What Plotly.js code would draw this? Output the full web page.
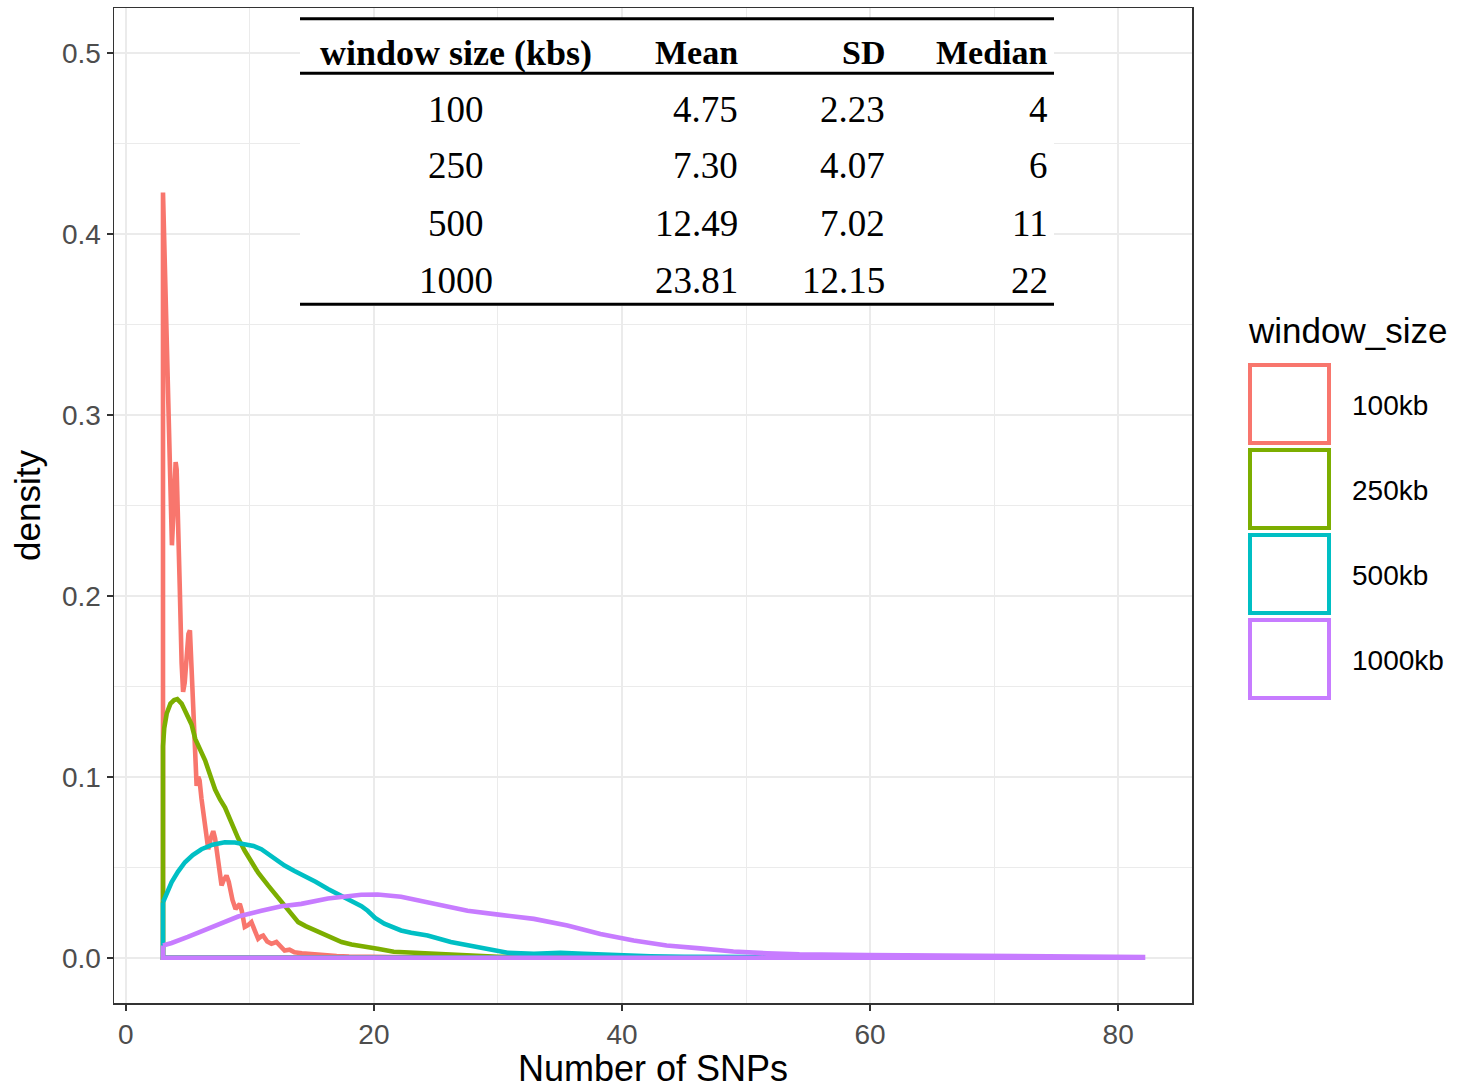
<!DOCTYPE html>
<html>
<head>
<meta charset="utf-8">
<script src="https://cdn.plot.ly/plotly-3.0.1.min.js"></script>
<style>
  html, body { margin: 0; padding: 0; background: #ffffff; }
  #chart { width: 1457px; height: 1089px; }
</style>
</head>
<body>
<div id="chart"></div>
<script>
// ---------------- data ----------------
const seriesNames = ['100kb', '250kb', '500kb', '1000kb'];
const seriesColors = ['#F8766D', '#7CAE00', '#00BFC4', '#C77CFF'];

const x100 = [3, 3.2, 3.4, 3.55, 3.65, 3.72, 3.8, 3.9, 4.02, 4.1, 4.2, 4.35, 4.5, 4.62, 4.75, 4.9, 5.05, 5.17, 5.3, 5.44, 5.6, 5.71, 5.84, 5.95, 6.1, 6.3, 6.5, 6.65, 6.85, 7.05, 7.2, 7.45, 7.72, 7.9, 8.12, 8.3, 8.6, 8.85, 9.0, 9.19, 9.35, 9.59, 9.85, 10.13, 10.4, 10.67, 10.9, 11.07, 11.4, 11.74, 12.14, 12.5, 12.8, 13.2, 13.6, 14.2, 15, 16, 17, 18, 20, 25, 30, 40, 50, 60, 70, 82];
const y100 = [0.423, 0.37, 0.31, 0.265, 0.236, 0.228, 0.24, 0.262, 0.274, 0.27, 0.25, 0.205, 0.163, 0.147, 0.152, 0.168, 0.179, 0.181, 0.16, 0.14, 0.108, 0.095, 0.1, 0.098, 0.088, 0.078, 0.064, 0.06, 0.066, 0.07, 0.066, 0.052, 0.04, 0.043, 0.0454, 0.042, 0.032, 0.027, 0.028, 0.0298, 0.026, 0.017, 0.018, 0.0197, 0.015, 0.0105, 0.0118, 0.0123, 0.009, 0.0077, 0.0087, 0.006, 0.004, 0.0045, 0.003, 0.0025, 0.002, 0.0013, 0.001, 0.0007, 0.0004, 0.0001, 0, 0, 0, 0, 0, 0];

const x250 = [3, 3.1, 3.3, 3.6, 3.9, 4.15, 4.5, 4.9, 5.3, 5.6, 6.0, 6.4, 6.9, 7.2, 7.6, 8.0, 8.5, 9.06, 9.6, 10.13, 10.67, 11.47, 12.27, 12.8, 13.4, 13.9, 14.5, 15.0, 16.0, 16.7, 17.4, 18.2, 19.0, 20.3, 21.6, 22.5, 24.9, 27.5, 30, 35, 40, 50, 60, 70, 82];
const y250 = [0.117, 0.127, 0.135, 0.1405, 0.1425, 0.143, 0.1405, 0.135, 0.129, 0.121, 0.1155, 0.109, 0.099, 0.093, 0.0875, 0.083, 0.075, 0.066, 0.059, 0.0528, 0.047, 0.04, 0.0335, 0.029, 0.024, 0.0197, 0.0175, 0.016, 0.0132, 0.011, 0.0087, 0.0073, 0.0062, 0.005, 0.0033, 0.003, 0.0017, 0.001, 0.0006, 0.0003, 0.0002, 0.0001, 0, 0, 0];

const x500 = [3, 3.3, 3.7, 4.2, 4.77, 5.4, 6.1, 7.0, 7.98, 8.8, 9.59, 10.3, 10.93, 11.8, 12.8, 13.6, 14.4, 15.3, 16.3, 17.2, 18.17, 19.0, 19.5, 20.1, 20.84, 22.19, 23.0, 24.33, 26.2, 28.6, 30.77, 32.9, 35.05, 36.9, 39.6, 42.3, 45, 50, 55, 60, 70, 82];
const y500 = [0.0307, 0.036, 0.0418, 0.0475, 0.0528, 0.0568, 0.06, 0.0625, 0.0638, 0.0637, 0.0629, 0.0618, 0.06, 0.0555, 0.051, 0.048, 0.0455, 0.042, 0.038, 0.0348, 0.0316, 0.0285, 0.026, 0.022, 0.0188, 0.0151, 0.0138, 0.0123, 0.0087, 0.0059, 0.0028, 0.0022, 0.0028, 0.0022, 0.0013, 0.0008, 0.0005, 0.0003, 0.0002, 0.0001, 0, 0];

const x1000 = [3, 3.7, 5.0, 6.9, 9.06, 10.93, 12.54, 14.15, 16.3, 18.97, 20.3, 22.19, 24.86, 27.55, 30.2, 32.9, 35.6, 38.26, 40.94, 43.6, 46.3, 48.98, 51.7, 54.3, 59.7, 65, 69.1, 75, 82];
const y1000 = [0.0068, 0.0082, 0.0115, 0.0165, 0.0228, 0.026, 0.0285, 0.0298, 0.0328, 0.0348, 0.035, 0.0337, 0.0298, 0.026, 0.0237, 0.0215, 0.0178, 0.0132, 0.0095, 0.0068, 0.0052, 0.0035, 0.0025, 0.0019, 0.0015, 0.0013, 0.0011, 0.0007, 0.0004];

const xTickVals = [0, 20, 40, 60, 80];
const yTickVals = [0, 0.1, 0.2, 0.3, 0.4, 0.5];

// summary table
const tableHeader = ['window size (kbs)', 'Mean', 'SD', 'Median'];
const tableWindow = ['100', '250', '500', '1000'];
const tableMean = ['4.75', '7.30', '12.49', '23.81'];
const tableSD = ['2.23', '4.07', '7.02', '12.15'];
const tableMedian = ['4', '6', '11', '22'];

// ---------------- layout helpers ----------------
const W = 1457, H = 1089;
const M = {l: 114, r: 265, t: 8, b: 86};
const PW = W - M.l - M.r, PH = H - M.t - M.b;
const px = v => (v - M.l) / PW;
const py = v => (H - M.b - v) / PH;

// geom_density outline: curve, down to baseline, back along baseline, up to start
function closed(xs, ys) {
  const n = xs.length;
  return {
    x: xs.concat([xs[n - 1], xs[0], xs[0]]),
    y: ys.concat([0, 0, ys[0]])
  };
}

const seriesX = [x100, x250, x500, x1000];
const seriesY = [y100, y250, y500, y1000];
const traces = seriesX.map((xs, i) => {
  const c = closed(xs, seriesY[i]);
  return {
    type: 'scatter', mode: 'lines', name: seriesNames[i],
    x: c.x, y: c.y,
    line: {color: seriesColors[i], width: 4.6, shape: 'linear'},
    showlegend: false, hoverinfo: 'skip'
  };
});

const shapes = [];
const annotations = [];

// table background and rules
shapes.push({type: 'rect', xref: 'paper', yref: 'paper', layer: 'above',
  x0: px(300), x1: px(1054), y0: py(18), y1: py(306),
  fillcolor: '#ffffff', line: {width: 0}});
[[18.7, 3], [73.3, 3], [304.3, 3]].forEach(([yy, w]) => {
  shapes.push({type: 'line', xref: 'paper', yref: 'paper', layer: 'above',
    x0: px(300), x1: px(1054), y0: py(yy), y1: py(yy),
    line: {color: '#000000', width: w}});
});

const colX = [456, 740, 887, 1050];
const colAnchor = ['center', 'right', 'right', 'right'];
const serif = 'Liberation Serif, Times New Roman, serif';
tableHeader.forEach((h, j) => {
  annotations.push({xref: 'paper', yref: 'paper', x: px(colX[j]), y: py(53),
    xanchor: colAnchor[j], yanchor: 'middle', showarrow: false,
    text: '<b>' + h + '</b>', font: {family: serif, size: j === 0 ? 36 : 34, color: '#000000'}});
});
const rowY = [109, 166, 223, 280];
const tableCols = [tableWindow, tableMean, tableSD, tableMedian];
tableCols.forEach((col, j) => {
  col.forEach((v, r) => {
    annotations.push({xref: 'paper', yref: 'paper', x: px(colX[j]), y: py(rowY[r]),
      xanchor: colAnchor[j], yanchor: 'middle', showarrow: false,
      text: v, font: {family: serif, size: 37, color: '#000000'}});
  });
});

// legend (ggplot style keys)
const sans = 'Liberation Sans, Arial, sans-serif';
annotations.push({xref: 'paper', yref: 'paper', x: px(1246), y: py(330),
  xanchor: 'left', yanchor: 'middle', showarrow: false,
  text: 'window_size', font: {family: sans, size: 35, color: '#000000'}});
seriesNames.forEach((n, i) => {
  const top = 365 + i * 85;
  shapes.push({type: 'rect', xref: 'paper', yref: 'paper', layer: 'above',
    x0: px(1250), x1: px(1329), y0: py(top), y1: py(top + 78),
    fillcolor: '#ffffff', line: {color: seriesColors[i], width: 4}});
  annotations.push({xref: 'paper', yref: 'paper', x: px(1350), y: py(top + 40),
    xanchor: 'left', yanchor: 'middle', showarrow: false,
    text: n, font: {family: sans, size: 28, color: '#000000'}});
});

const layout = {
  width: W, height: H,
  margin: M,
  paper_bgcolor: '#ffffff', plot_bgcolor: '#ffffff',
  font: {family: sans, color: '#000000'},
  showlegend: false,
  xaxis: {
    range: [-0.95, 85.95], tickvals: xTickVals, ticktext: xTickVals.map(String),
    showgrid: true, gridcolor: '#EBEBEB', gridwidth: 2,
    minor: {dtick: 10, tick0: 0, showgrid: true, gridcolor: '#EBEBEB', gridwidth: 1},
    zeroline: false, showline: true, mirror: true, linecolor: '#333333', linewidth: 1.5,
    ticks: 'outside', ticklen: 6, tickwidth: 2, tickcolor: '#333333',
    tickfont: {family: sans, size: 28, color: '#4D4D4D'},
    title: {text: 'Number of SNPs', font: {family: sans, size: 36, color: '#000000'}, standoff: 8},
    automargin: false
  },
  yaxis: {
    range: [-0.025, 0.525], tickvals: yTickVals, ticktext: yTickVals.map(v => v.toFixed(1)),
    showgrid: true, gridcolor: '#EBEBEB', gridwidth: 2,
    minor: {dtick: 0.05, tick0: 0, showgrid: true, gridcolor: '#EBEBEB', gridwidth: 1},
    zeroline: false, showline: true, mirror: true, linecolor: '#333333', linewidth: 1.5,
    ticks: 'outside', ticklen: 6, tickwidth: 2, tickcolor: '#333333',
    tickfont: {family: sans, size: 28, color: '#4D4D4D'},
    title: {text: 'density', font: {family: sans, size: 35, color: '#000000'}, standoff: 10},
    automargin: false
  },
  shapes: shapes,
  annotations: annotations
};

Plotly.newPlot('chart', traces, layout, {displayModeBar: false, staticPlot: true});
</script>
</body>
</html>
